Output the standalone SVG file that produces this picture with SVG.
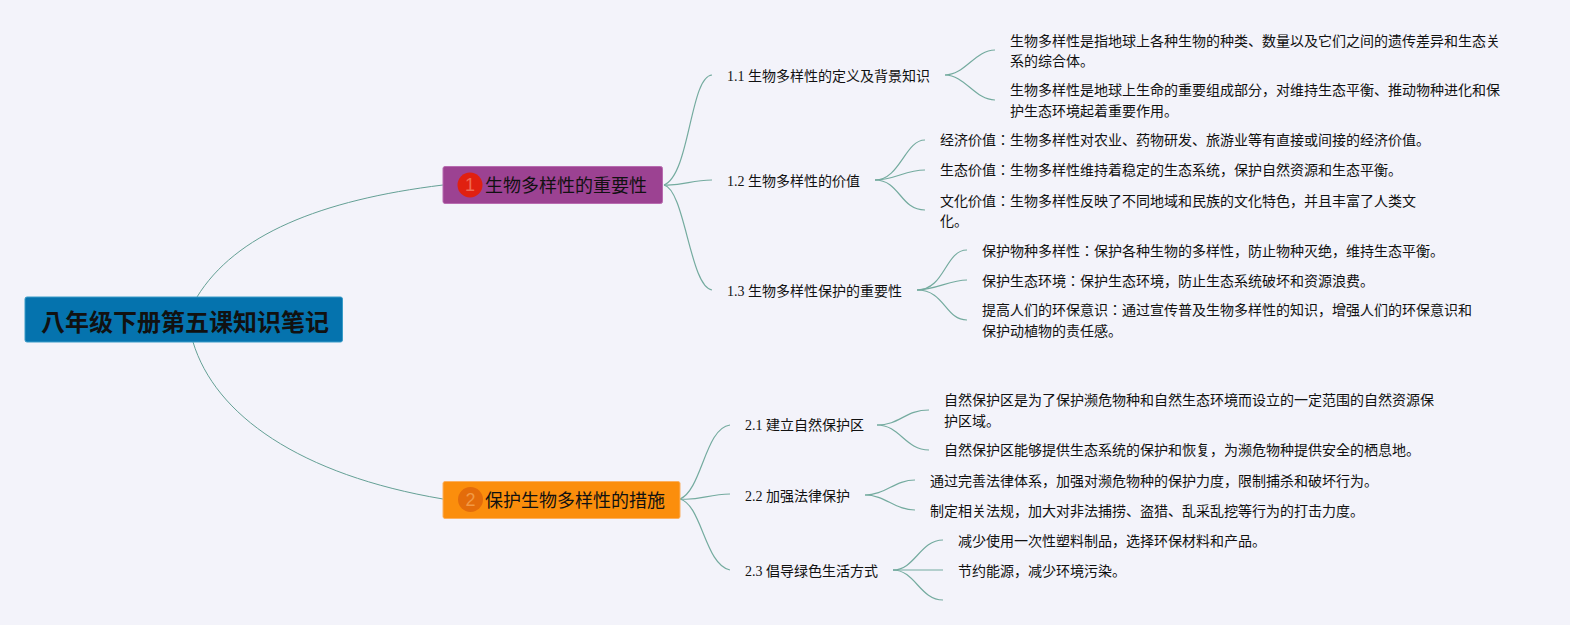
<svg xmlns="http://www.w3.org/2000/svg" width="1570" height="625" viewBox="0 0 1570 625">
<style>
text{font-family:"Liberation Serif","Noto Sans CJK JP",serif;fill:#111}
.t{font-size:14px}
.h{font-size:18px}
.r{font-size:24px;font-weight:700}
.n{font-size:18px;text-anchor:middle;font-family:"Liberation Sans",sans-serif}
#connectors path{fill:none;stroke:#64a095;stroke-width:1}
#connectors path.b{stroke:#74ab9f;stroke-width:1.2}
</style>
<rect width="1570" height="625" fill="#f3f3fa"/>
<g id="connectors">
<path d="M197 297C235 235 320 200 443 185"/>
<path d="M193 342C215 415 300 475 443 499"/>
<path class="b" d="M664 185C690 175 690 76 712 75"/>
<path class="b" d="M664 185C685 186 690 180 712 180"/>
<path class="b" d="M664 185C685 190 690 287 712 290"/>
<path class="b" d="M945 75C965 75 975 50 995 50"/>
<path class="b" d="M945 75C965 75 975 100 995 100"/>
<path class="b" d="M875 180C900 180 905 140 925 140"/>
<path class="b" d="M875 180C895 180 905 170 925 170"/>
<path class="b" d="M875 180C900 180 900 210 925 210"/>
<path class="b" d="M917 290C945 290 945 250 967 250"/>
<path class="b" d="M917 290C935 290 950 280 967 280"/>
<path class="b" d="M917 290C945 290 945 320 967 320"/>
<path class="b" d="M680 499C702 490 705 428 730 425"/>
<path class="b" d="M680 499C700 501 708 494 730 494"/>
<path class="b" d="M680 499C702 505 705 565 730 570"/>
<path class="b" d="M877 425C900 425 905 410 929 410"/>
<path class="b" d="M877 425C900 425 905 450 929 450"/>
<path class="b" d="M865 495C885 495 895 480 915 480"/>
<path class="b" d="M865 495C885 495 895 510 915 510"/>
<path class="b" d="M893 570C915 570 920 540 943 540"/>
<path class="b" d="M893 570H943"/>
<path class="b" d="M893 570C915 570 920 600 943 600"/>
</g>
<g id="root"><rect x="25" y="297" width="317.500" height="45" rx="2" fill="#0573ae" stroke="#3a9cc8"/><text class="r" x="41" y="331">八年级下册第五课知识笔记</text></g>
<g id="topic1"><rect x="443" y="166.500" width="219.500" height="37" rx="2" fill="#9c4292" stroke="#b86bb0"/><circle cx="470" cy="185" r="12.500" fill="#e02010"/><text class="n" x="470" y="191" style="fill:#ee6a55">1</text><text class="h" x="485" y="192">生物多样性的重要性</text></g>
<g id="topic2"><rect x="443" y="481.500" width="237" height="37" rx="2" fill="#fb8e0c" stroke="#fbb060"/><circle cx="470.500" cy="499.500" r="12.500" fill="#e46c0a"/><text class="n" x="470.500" y="506" style="fill:#f29a45">2</text><text class="h" x="485" y="507">保护生物多样性的措施</text></g>
<g id="n11"><text class="t" x="727" y="81">1.1 生物多样性的定义及背景知识</text></g>
<g id="n111"><text class="t" x="1010" y="46">生物多样性是指地球上各种生物的种类、数量以及它们之间的遗传差异和生态关</text><text class="t" x="1010" y="66">系的综合体。</text></g>
<g id="n112"><text class="t" x="1010" y="95">生物多样性是地球上生命的重要组成部分，对维持生态平衡、推动物种进化和保</text><text class="t" x="1010" y="116">护生态环境起着重要作用。</text></g>
<g id="n12"><text class="t" x="727" y="186">1.2 生物多样性的价值</text></g>
<g id="n121"><text class="t" x="940" y="145">经济价值：生物多样性对农业、药物研发、旅游业等有直接或间接的经济价值。</text></g>
<g id="n122"><text class="t" x="940" y="175">生态价值：生物多样性维持着稳定的生态系统，保护自然资源和生态平衡。</text></g>
<g id="n123"><text class="t" x="940" y="206">文化价值：生物多样性反映了不同地域和民族的文化特色，并且丰富了人类文</text><text class="t" x="940" y="226">化。</text></g>
<g id="n13"><text class="t" x="727" y="296">1.3 生物多样性保护的重要性</text></g>
<g id="n131"><text class="t" x="982" y="256">保护物种多样性：保护各种生物的多样性，防止物种灭绝，维持生态平衡。</text></g>
<g id="n132"><text class="t" x="982" y="286">保护生态环境：保护生态环境，防止生态系统破坏和资源浪费。</text></g>
<g id="n133"><text class="t" x="982" y="315">提高人们的环保意识：通过宣传普及生物多样性的知识，增强人们的环保意识和</text><text class="t" x="982" y="336">保护动植物的责任感。</text></g>
<g id="n21"><text class="t" x="745" y="430">2.1 建立自然保护区</text></g>
<g id="n211"><text class="t" x="944" y="405">自然保护区是为了保护濒危物种和自然生态环境而设立的一定范围的自然资源保</text><text class="t" x="944" y="426">护区域。</text></g>
<g id="n212"><text class="t" x="944" y="455">自然保护区能够提供生态系统的保护和恢复，为濒危物种提供安全的栖息地。</text></g>
<g id="n22"><text class="t" x="745" y="501">2.2 加强法律保护</text></g>
<g id="n221"><text class="t" x="930" y="486">通过完善法律体系，加强对濒危物种的保护力度，限制捕杀和破坏行为。</text></g>
<g id="n222"><text class="t" x="930" y="516">制定相关法规，加大对非法捕捞、盗猎、乱采乱挖等行为的打击力度。</text></g>
<g id="n23"><text class="t" x="745" y="576">2.3 倡导绿色生活方式</text></g>
<g id="n231"><text class="t" x="958" y="546">减少使用一次性塑料制品，选择环保材料和产品。</text></g>
<g id="n232"><text class="t" x="958" y="576">节约能源，减少环境污染。</text></g>
</svg>
